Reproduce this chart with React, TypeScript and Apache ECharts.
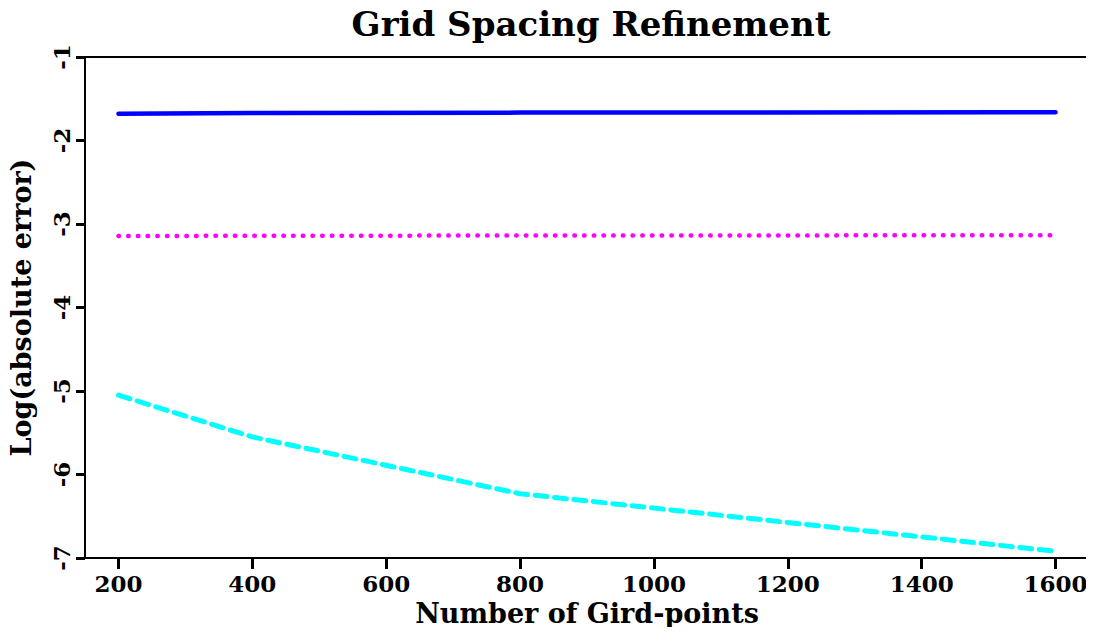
import React, { useEffect, useRef } from "react";
import * as echarts from "echarts";

const gridPoints = [200, 400, 800, 1600];
const solidBlue = [-1.679, -1.672, -1.666, -1.662];
const dottedMagenta = [-3.144, -3.141, -3.138, -3.135];
const dashedCyan = [-5.05, -5.55, -6.23, -6.92];
const xTicks = [200, 400, 600, 800, 1000, 1200, 1400, 1600];

const FONT = "'DejaVu Serif', serif";

export default function App() {
  const ref = useRef<HTMLDivElement>(null);
  useEffect(() => {
    const chart = echarts.init(ref.current!, undefined, { renderer: "svg" });
    const pair = (ys: number[]) => gridPoints.map((x, i) => [x, ys[i]]);
    chart.setOption({
      animation: false,
      backgroundColor: "#fff",
      title: {
        text: "Grid Spacing Refinement",
        left: 586,
        textAlign: "center",
        top: 2,
        textStyle: { fontFamily: FONT, fontWeight: "bold", fontSize: 34, color: "#000" },
      },
      grid: {
        left: 83,
        right: 5,
        top: 57,
        bottom: 77,
        show: true,
        borderColor: "#000",
        borderWidth: 2,
        backgroundColor: "transparent",
      },
      xAxis: {
        type: "value",
        min: 150,
        max: 1650,
        name: "Number of Gird-points",
        nameLocation: "middle",
        nameGap: 38,
        nameTextStyle: { fontFamily: FONT, fontWeight: "bold", fontSize: 27, color: "#000" },
        splitLine: { show: false },
        axisLine: { lineStyle: { color: "#000", width: 2 } },
        axisTick: {
          customValues: xTicks,
          length: 11,
          lineStyle: { color: "#000", width: 3 },
        },
        axisLabel: {
          customValues: xTicks,
          formatter: (v: number) => String(v),
          margin: 14,
          fontFamily: FONT,
          fontWeight: "bold",
          fontSize: 23,
          color: "#000",
        },
      },
      yAxis: {
        type: "value",
        min: -7,
        max: -1,
        interval: 1,
        name: "Log(absolute error)",
        nameLocation: "middle",
        nameGap: 50,
        nameTextStyle: { fontFamily: FONT, fontWeight: "bold", fontSize: 27, color: "#000" },
        splitLine: { show: false },
        axisLine: { lineStyle: { color: "#000", width: 2 } },
        axisTick: { length: 9, lineStyle: { color: "#000", width: 3 } },
        axisLabel: {
          rotate: 90,
          margin: 12,
          formatter: (v: number) => String(v),
          fontFamily: FONT,
          fontWeight: "bold",
          fontSize: 23,
          color: "#000",
        },
      },
      series: [
        {
          type: "line",
          data: pair(solidBlue),
          showSymbol: false,
          lineStyle: { color: "#0000ff", width: 4.5, cap: "round" },
        },
        {
          type: "line",
          data: pair(dottedMagenta),
          showSymbol: false,
          lineStyle: { color: "#ff00ff", width: 4.5, type: [0.5, 9.2], cap: "round" },
        },
        {
          type: "line",
          data: pair(dashedCyan),
          showSymbol: false,
          lineStyle: { color: "#00ffff", width: 5, type: [12, 7.5], cap: "round" },
        },
      ],
    });
    return () => chart.dispose();
  }, []);
  return <div ref={ref} style={{ width: 1094, height: 635, margin: -8 }} />;
}
